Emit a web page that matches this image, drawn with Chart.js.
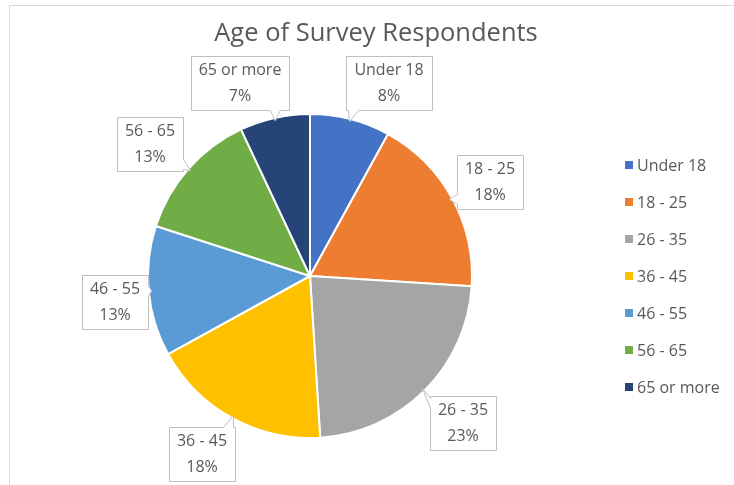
<!DOCTYPE html>
<html>
<head>
<meta charset="utf-8">
<title>Age of Survey Respondents</title>
<script src="https://cdn.jsdelivr.net/npm/chart.js@4.4.1/dist/chart.umd.min.js"></script>
<style>
    html, body { margin: 0; padding: 0; background: #fff; }
    #wrap { position: relative; width: 734px; height: 485px; overflow: hidden; }
    #frame { position: absolute; left: 9px; top: 5px; right: -2px; bottom: -2px;
             border-top: 1px solid #d9d9d9; border-left: 1px solid #d9d9d9; }
    canvas { position: absolute; left: 0; top: 0; }
</style>
</head>
<body>
<div id="wrap">
    <div id="frame"></div>
    <canvas id="ageChart" width="734" height="485"></canvas>
</div>
<script>
// Data
const chartTitle = 'Age of Survey Respondents';
const categories = ['Under 18', '18 - 25', '26 - 35', '36 - 45', '46 - 55', '56 - 65', '65 or more'];
const shares = [8, 18, 23, 18, 13, 13, 7];

// Style
const sliceColors = ['#4472C4', '#ED7D31', '#A5A5A5', '#FFC000', '#5B9BD5', '#70AD47', '#264478'];
const textColor = '#595959';
const labelFont = '16px "Open Sans"';

// callout box centres (px), same order as categories
const calloutCentres = [[389, 83], [490, 182], [463, 423], [202, 454], [115, 302], [150, 144], [240, 83]];

// ============================================================
// Callout labels (box + pointer to slice)
// ============================================================
const calloutPlugin = {
    id: 'callouts',
    afterDatasetsDraw(chart) {
        const ctx = chart.ctx;
        const arcs = chart.getDatasetMeta(0).data;
        const total = shares.reduce((a, b) => a + b, 0);
        const clamp = (v, a, b) => Math.min(Math.max(v, a), b);

        ctx.save();
        ctx.font = labelFont;
        arcs.forEach((arc, i) => {
            const mid = (arc.startAngle + arc.endAngle) / 2;
            const tx = arc.x + Math.cos(mid) * (arc.outerRadius - 3);
            const ty = arc.y + Math.sin(mid) * (arc.outerRadius - 3);
            const line1 = categories[i];
            const line2 = Math.round(shares[i] * 100 / total) + '%';
            const w = Math.max(ctx.measureText(line1).width, ctx.measureText(line2).width) + 16;
            const h = 54;
            const [cx, cy] = calloutCentres[i];
            const x0 = Math.round(cx - w / 2) + 0.5, x1 = Math.round(cx + w / 2) + 0.5;
            const y0 = Math.round(cy - h / 2) + 0.5, y1 = Math.round(cy + h / 2) + 0.5;

            let side;
            if (ty > y1 && tx > x0 - 6 && tx < x1 + 6) side = 'bottom';
            else if (ty < y0 && tx > x0 - 6 && tx < x1 + 6) side = 'top';
            else if (tx < x0) side = 'left';
            else side = 'right';

            const bx = clamp(tx, x0 + 7, x1 - 7);
            const by = clamp(ty, y0 + 7, y1 - 7);

            ctx.beginPath();
            ctx.moveTo(x0, y0);
            if (side === 'top') { ctx.lineTo(bx - 5, y0); ctx.lineTo(tx, ty); ctx.lineTo(bx + 5, y0); }
            ctx.lineTo(x1, y0);
            if (side === 'right') { ctx.lineTo(x1, by - 5); ctx.lineTo(tx, ty); ctx.lineTo(x1, by + 5); }
            ctx.lineTo(x1, y1);
            if (side === 'bottom') { ctx.lineTo(bx + 5, y1); ctx.lineTo(tx, ty); ctx.lineTo(bx - 5, y1); }
            ctx.lineTo(x0, y1);
            if (side === 'left') { ctx.lineTo(x0, by + 5); ctx.lineTo(tx, ty); ctx.lineTo(x0, by - 5); }
            ctx.closePath();
            ctx.fillStyle = '#ffffff';
            ctx.fill();
            ctx.strokeStyle = '#bfbfbf';
            ctx.lineWidth = 1;
            ctx.stroke();

            ctx.fillStyle = textColor;
            ctx.textAlign = 'center';
            ctx.textBaseline = 'middle';
            ctx.fillText(line1, cx, cy - 13);
            ctx.fillText(line2, cx, cy + 13);
        });
        ctx.restore();
    }
};

// ============================================================
// Title + legend on the right
// ============================================================
const decorPlugin = {
    id: 'decor',
    afterDraw(chart) {
        const ctx = chart.ctx;
        ctx.save();
        ctx.fillStyle = textColor;
        ctx.font = '25.5px "Open Sans"';
        ctx.textAlign = 'center';
        ctx.textBaseline = 'middle';
        ctx.fillText(chartTitle, 376, 34);

        ctx.font = labelFont;
        ctx.textAlign = 'left';
        categories.forEach((name, i) => {
            const y = 165 + i * 37;
            ctx.fillStyle = sliceColors[i];
            ctx.fillRect(625, y - 4, 8, 8);
            ctx.fillStyle = textColor;
            ctx.fillText(name, 637, y + 1);
        });
        ctx.restore();
    }
};

const ctxAge = document.getElementById('ageChart');
new Chart(ctxAge, {
    type: 'pie',
    data: {
        labels: categories,
        datasets: [{
            data: shares,
            backgroundColor: sliceColors,
            borderColor: '#ffffff',
            borderWidth: 2
        }]
    },
    options: {
        responsive: false,
        animation: false,
        layout: { padding: { left: 147, right: 261, top: 113, bottom: 46 } },
        plugins: {
            legend: { display: false },
            title: { display: false },
            tooltip: { enabled: false }
        }
    },
    plugins: [calloutPlugin, decorPlugin]
});
</script>
</body>
</html>
